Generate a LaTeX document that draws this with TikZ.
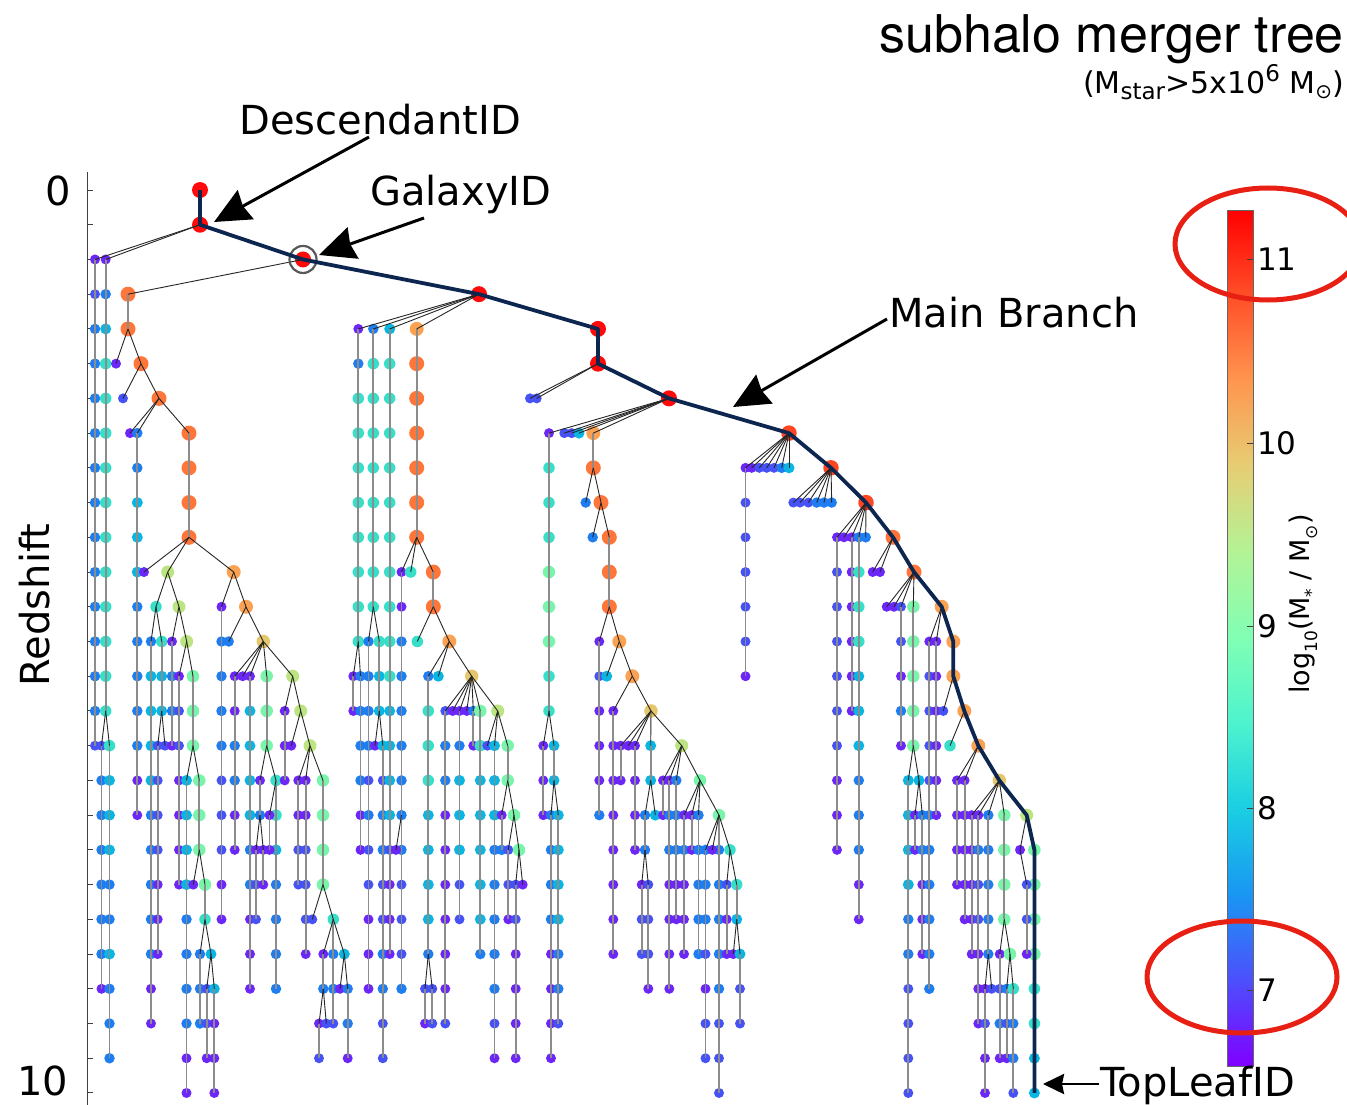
\documentclass[tikz,border=0pt]{standalone}
\usepackage{fontspec}
\setmainfont{DejaVu Sans}
\newfontfamily\helv{TeX Gyre Heros}
\usetikzlibrary{arrows.meta}
\newcommand\setfs[1]{\fontsize{#1}{#1}\selectfont}
\definecolor{cV}{RGB}{108,38,248}
\definecolor{cB}{RGB}{70,82,245}
\definecolor{cA}{RGB}{30,125,240}
\definecolor{cC}{RGB}{10,182,225}
\definecolor{cT}{RGB}{55,222,200}
\definecolor{cG}{RGB}{120,245,170}
\definecolor{cY}{RGB}{188,228,128}
\definecolor{cK}{RGB}{228,198,108}
\definecolor{cO}{RGB}{250,162,82}
\definecolor{cR}{RGB}{255,118,58}
\definecolor{cD}{RGB}{255,70,35}
\definecolor{cX}{RGB}{255,10,10}
\definecolor{navy}{RGB}{12,38,80}
\definecolor{ellred}{RGB}{232,32,20}
\definecolor{cb0}{RGB}{128,0,255}
\definecolor{cb1}{RGB}{77,79,252}
\definecolor{cb2}{RGB}{26,150,243}
\definecolor{cb3}{RGB}{26,206,227}
\definecolor{cb4}{RGB}{77,243,206}
\definecolor{cb5}{RGB}{128,255,180}
\definecolor{cb6}{RGB}{179,243,150}
\definecolor{cb7}{RGB}{230,206,116}
\definecolor{cb8}{RGB}{255,150,79}
\definecolor{cb9}{RGB}{255,79,40}
\definecolor{cb10}{RGB}{255,0,0}
\pgfdeclareverticalshading{rbow}{100bp}{color(0bp)=(cb0); color(25bp)=(cb0); color(30bp)=(cb1); color(35bp)=(cb2); color(40bp)=(cb3); color(45bp)=(cb4); color(50bp)=(cb5); color(55bp)=(cb6); color(60bp)=(cb7); color(65bp)=(cb8); color(70bp)=(cb9); color(75bp)=(cb10); color(100bp)=(cb10)}
\tikzset{
  tdot/.style={circle,inner sep=0pt,outer sep=0pt},
  qV/.style={fill=cV,minimum size=10},
  qB/.style={fill=cB,minimum size=10},
  qA/.style={fill=cA,minimum size=10.5},
  qC/.style={fill=cC,minimum size=11},
  qT/.style={fill=cT,minimum size=11.5},
  qG/.style={fill=cG,minimum size=12.5},
  qY/.style={fill=cY,minimum size=13},
  qK/.style={fill=cK,minimum size=13.5},
  qO/.style={fill=cO,minimum size=14},
  qR/.style={fill=cR,minimum size=15},
  qD/.style={fill=cD,minimum size=15.5},
  qX/.style={fill=cX,minimum size=16},
  vl/.style={line width=1.8pt,draw=black!45},
  dl/.style={line width=0.9pt,draw=black!85},
  mainline/.style={line width=3.8pt,draw=navy,line join=round},
  lab/.style={inner sep=0pt,font=\setfs{40}},
  bigarrow/.style={line width=3pt,-{Stealth[length=36pt,width=33pt,inset=3pt]}},
}
\newif\iflinkpass
\newcommand\tcol[5]{%
  \iflinkpass
    \foreach \cc [count=\ii from 0] in {#5}{%
      \ifnum\ii>0\relax
        \pgfmathtruncatemacro\rr{#3+\ii}%
        \pgfmathtruncatemacro\qq{\rr-1}%
        \draw[vl] (#1-\qq.center) -- (#1-\rr.center);%
      \fi
    }%
    \draw[dl] (#4.center) -- (#1-#3.center);%
  \else
    \foreach \cc [count=\ii from 0] in {#5}{%
      \pgfmathtruncatemacro\rr{#3+\ii}%
      \node[tdot,\cc] (#1-\rr) at (#2,{190+34.73*\rr}) {};%
    }%
  \fi
}
\newcommand\treedata{%
\tcol{a1}{95}{2}{mb-1}{qV,qB,qA,qA,qA,qA,qA,qA,qA,qA,qA,qA,qA,qA,qB}
\tcol{a2}{105.7}{2}{mb-1}{qV,qA,qC,qT,qT,qT,qT,qT,qT,qT,qT,qT,qT,qT}
\tcol{a3}{101.5}{16}{a2-15}{qB,qA,qA,qA,qA,qA,qA,qV}
\tcol{a4}{109.5}{16}{a2-15}{qT,qC,qC,qC,qA,qA,qC,qA,qA,qA}
\tcol{b1}{128}{3}{mb-2}{qR,qR}
\tcol{b2}{116}{5}{b1-4}{qV}
\tcol{b3}{141}{5}{b1-4}{qR}
\tcol{b4}{123}{6}{b3-5}{qB}
\tcol{b5}{159}{6}{b3-5}{qR}
\tcol{b6}{130}{7}{b5-6}{qV}
\tcol{b7}{137.3}{7}{b5-6}{qA,qA,qC,qC,qC,qA,qA,qA,qA,qA,qV,qV}
\tcol{b8}{189}{7}{b5-6}{qR,qR,qR,qR}
\tcol{b9}{144}{11}{b8-10}{qV}
\tcol{c1}{167.7}{11}{b8-10}{qY}
\tcol{c2}{156}{12}{c1-11}{qT}
\tcol{c3}{151}{13}{c2-12}{qA,qC,qC,qC,qC,qA,qA,qA,qA,qA,qV,qV}
\tcol{c4}{161.7}{13}{c2-12}{qT,qC,qC}
\tcol{c5}{157.7}{16}{c4-15}{qB,qB,qB,qB,qV,qV,qV}
\tcol{c6}{165}{16}{c4-15}{qB}
\tcol{c7}{179}{12}{c1-11}{qY}
\tcol{c8}{172}{13}{c7-12}{qV,qA,qA,qV}
\tcol{c9}{186.7}{13}{c7-12}{qY}
\tcol{d1}{179}{14}{c9-13}{qV,qB,qB,qV,qV,qV,qV}
\tcol{d2}{193}{14}{c9-13}{qG,qG,qG}
\tcol{d3}{186.5}{17}{d2-16}{qC,qC,qC,qC,qA,qA,qA,qA,qV,qV}
\tcol{d4}{199.3}{17}{d2-16}{qG,qG,qG}
\tcol{d5}{193.3}{20}{d4-19}{qV}
\tcol{d6}{205}{20}{d4-19}{qG,qT}
\tcol{d7}{200}{22}{d6-21}{qA,qA,qA}
\tcol{d8}{211}{22}{d6-21}{qC}
\tcol{d9}{206.7}{23}{d8-22}{qB,qB,qV}
\tcol{e1}{214.3}{23}{d8-22}{qC,qV,qV,qV}
\tcol{e2}{233.7}{11}{b8-10}{qO}
\tcol{e3}{221.5}{12}{e2-11}{qV,qA,qA,qA,qA,qB,qB,qB,qV,qV}
\tcol{e4}{246}{12}{e2-11}{qO}
\tcol{e5}{228.7}{13}{e4-12}{qA}
\tcol{e6}{263.3}{13}{e4-12}{qK}
\tcol{e7}{234.7}{14}{e6-13}{qV,qV,qA,qA,qV,qV}
\tcol{e8}{242.7}{14}{e6-13}{qV}
\tcol{e9}{250}{14}{e6-13}{qV,qC,qC,qC,qC,qA,qA,qV,qV,qV}
\tcol{f1}{266.7}{14}{e6-13}{qG,qG,qG}
\tcol{f2}{260}{17}{f1-16}{qV,qA}
\tcol{f3}{256}{19}{f2-18}{qV,qB,qB}
\tcol{f4}{263.3}{19}{f2-18}{qV,qV}
\tcol{f5}{276}{17}{f1-16}{qT,qT,qC,qA,qA,qA,qA}
\tcol{f6}{269.5}{18}{f5-17}{qV,qV}
\tcol{f7}{292.7}{14}{e6-13}{qY}
\tcol{f8}{284.7}{15}{f7-14}{qV,qV,qV}
\tcol{f9}{300.7}{15}{f7-14}{qY}
\tcol{g1}{291.3}{16}{f9-15}{qV}
\tcol{g2}{310}{16}{f9-15}{qY}
\tcol{g3}{298.3}{17}{g2-16}{qV,qV,qB,qB}
\tcol{g4}{305.7}{17}{g2-16}{qV,qV,qB,qB,qB,qV}
\tcol{g5}{323}{17}{g2-16}{qG,qG,qG,qG}
\tcol{g6}{312.3}{21}{g5-20}{qB}
\tcol{g7}{333.3}{21}{g5-20}{qT,qA,qA,qB}
\tcol{g8}{323.3}{22}{g7-21}{qV,qA}
\tcol{g9}{319}{24}{g8-23}{qV,qB}
\tcol{h1}{326.3}{24}{g8-23}{qB}
\tcol{h2}{344.3}{22}{g7-21}{qC}
\tcol{h3}{340}{23}{h2-22}{qV}
\tcol{h4}{347.7}{23}{h2-22}{qA,qA,qV}
\tcol{i1}{358.3}{4}{mb-3}{qV,qA,qT,qT,qT,qT,qT,qT,qT,qT}
\tcol{i2}{353.3}{14}{i1-13}{qV,qV}
\tcol{i3}{360.5}{14}{i1-13}{qA,qA,qA,qA,qV,qV}
\tcol{i4}{373.3}{4}{mb-3}{qA,qT,qT,qT,qT,qT,qT,qT,qT}
\tcol{i5}{368.5}{13}{i4-12}{qA,qA,qA,qA,qB,qA,qB,qB,qV,qV,qV}
\tcol{i6}{379.3}{13}{i4-12}{qT,qC,qC}
\tcol{i7}{375}{16}{i6-15}{qV}
\tcol{i8}{382.8}{16}{i6-15}{qC,qB,qA,qA,qB,qB,qA,qA,qB,qB}
\tcol{i9}{389.7}{4}{mb-3}{qC,qT,qT,qT,qT,qT,qT,qT,qT,qT,qT,qC,qC,qC,qC,qB,qV,qV,qV}
\tcol{j1}{416.7}{4}{mb-3}{qO,qR,qR,qR,qR,qR,qR}
\tcol{j2}{401.5}{11}{j1-10}{qV,qV,qA,qA,qA,qA,qA,qA,qA,qB,qB,qB,qA}
\tcol{j3}{396}{19}{j2-18}{qV}
\tcol{j4}{410.7}{11}{j1-10}{qT}
\tcol{j5}{433.3}{11}{j1-10}{qR,qR}
\tcol{j6}{417.3}{13}{j5-12}{qT}
\tcol{j7}{449.3}{13}{j5-12}{qO}
\tcol{j8}{428.3}{14}{j7-13}{qA,qT,qT,qT,qC,qC,qC,qC,qA}
\tcol{j9}{425}{23}{j8-22}{qB,qV}
\tcol{k1}{432.3}{23}{j8-22}{qB,qB}
\tcol{k2}{438.3}{14}{j7-13}{qC}
\tcol{k3}{471.7}{14}{j7-13}{qK}
\tcol{k4}{445.3}{15}{k3-14}{qB,qA,qA,qV,qV,qV,qV,qV,qV,qB}
\tcol{k5}{452.7}{15}{k3-14}{qV}
\tcol{k6}{459.5}{15}{k3-14}{qV,qA,qC,qC,qC,qB,qB}
\tcol{k7}{466.7}{15}{k3-14}{qV}
\tcol{k8}{473.3}{15}{k3-14}{qA,qV}
\tcol{k9}{480.3}{15}{k3-14}{qG,qT,qC,qC,qC,qC,qC,qA}
\tcol{l1}{497.7}{15}{k3-14}{qY}
\tcol{l2}{487.3}{16}{l1-15}{qB}
\tcol{l3}{494.5}{16}{l1-15}{qC,qC,qC,qA,qA,qA,qA,qA,qB,qV}
\tcol{l4}{507.7}{16}{l1-15}{qG,qG}
\tcol{l5}{501.7}{18}{l4-17}{qV,qA}
\tcol{l6}{514}{18}{l4-17}{qG}
\tcol{l7}{508.3}{19}{l6-18}{qB,qB,qV}
\tcol{l8}{519}{19}{l6-18}{qG}
\tcol{l9}{515.7}{20}{l8-19}{qB,qB,qV,qV,qV,qV}
\tcol{m1}{522.7}{20}{l8-19}{qV}
\tcol{n1}{530}{6}{mb-5}{qB}
\tcol{n2}{536.7}{6}{mb-5}{qB}
\tcol{n3}{549}{7}{mb-6}{qV,qT,qT,qT,qG,qG,qG,qT,qT}
\tcol{n4}{543.3}{16}{n3-15}{qV,qV,qV}
\tcol{n5}{554}{16}{n3-15}{qC,qC}
\tcol{n6}{551}{18}{n5-17}{qA,qA,qA,qA,qV,qV,qV,qV}
\tcol{n7}{558.3}{18}{n5-17}{qC,qC,qC,qC,qA,qA,qB}
\tcol{n8}{564.3}{7}{mb-6}{qB}
\tcol{n9}{571.7}{7}{mb-6}{qB}
\tcol{o1}{579}{7}{mb-6}{qC}
\tcol{o2}{593.3}{7}{mb-6}{qO,qR}
\tcol{o3}{585.7}{9}{o2-8}{qA}
\tcol{o4}{601}{9}{o2-8}{qR}
\tcol{o5}{592.7}{10}{o4-9}{qA}
\tcol{o6}{609.3}{10}{o4-9}{qR,qR,qR}
\tcol{o7}{599.3}{13}{o6-12}{qV,qB,qV,qV,qV,qA}
\tcol{o8}{619.3}{13}{o6-12}{qO}
\tcol{o9}{606.7}{14}{o8-13}{qC}
\tcol{p1}{632.3}{14}{o8-13}{qO}
\tcol{p2}{613.3}{15}{p1-14}{qV,qV,qV,qV,qV,qV,qV,qV}
\tcol{p3}{651}{15}{p1-14}{qK}
\tcol{p4}{620.7}{16}{p3-15}{qV,qV}
\tcol{p5}{628.3}{16}{p3-15}{qV}
\tcol{p6}{635}{16}{p3-15}{qV,qV,qV,qV}
\tcol{p7}{650.7}{16}{p3-15}{qC,qC}
\tcol{p8}{645}{18}{p7-17}{qA,qA}
\tcol{p9}{655.3}{18}{p7-17}{qC}
\tcol{q1}{641.7}{20}{p8-19}{qV,qB,qB}
\tcol{q2}{648.3}{20}{p8-19}{qB,qB,qB,qV}
\tcol{q3}{681.7}{16}{p3-15}{qY}
\tcol{q4}{663}{17}{q3-16}{qV,qV}
\tcol{q5}{669.3}{17}{q3-16}{qV,qA,qA,qV,qV,qV,qV}
\tcol{q6}{676.3}{17}{q3-16}{qA,qA,qA,qV,qV}
\tcol{q7}{700}{17}{q3-16}{qG}
\tcol{q8}{684}{18}{q7-17}{qV,qA,qV,qV,qV}
\tcol{q9}{691.7}{18}{q7-17}{qV,qV}
\tcol{r1}{698.5}{18}{q7-17}{qA,qA,qA,qA,qA}
\tcol{r2}{719}{18}{q7-17}{qG,qA,qA,qA,qA,qA,qB,qB,qB}
\tcol{r3}{705.5}{19}{r2-18}{qA,qA,qA,qB,qV,qB,qB}
\tcol{r4}{712.3}{19}{r2-18}{qV}
\tcol{r5}{730}{19}{r2-18}{qT}
\tcol{r6}{726.7}{20}{r5-19}{qB,qV,qV}
\tcol{r7}{736.7}{20}{r5-19}{qT,qC}
\tcol{r8}{733.3}{22}{r7-21}{qV}
\tcol{r9}{740}{22}{r7-21}{qC,qB,qB}
\tcol{s1}{745.5}{8}{mb-7}{qV,qB,qB,qB,qB,qB,qV}
\tcol{s2}{751.7}{8}{mb-7}{qV}
\tcol{s3}{759.3}{8}{mb-7}{qB}
\tcol{s4}{766.7}{8}{mb-7}{qB}
\tcol{s5}{774}{8}{mb-7}{qB}
\tcol{s6}{781.7}{8}{mb-7}{qA}
\tcol{s7}{789}{8}{mb-7}{qC}
\tcol{t1}{793.3}{9}{mb-8}{qB}
\tcol{t2}{800}{9}{mb-8}{qB}
\tcol{t3}{808.3}{9}{mb-8}{qB}
\tcol{t4}{816.7}{9}{mb-8}{qA}
\tcol{t5}{824}{9}{mb-8}{qA}
\tcol{t6}{831.7}{9}{mb-8}{qA}
\tcol{u1}{837}{10}{mb-9}{qV,qB,qB,qB,qB,qB,qB,qV,qV,qV}
\tcol{u2}{844}{10}{mb-9}{qV}
\tcol{u3}{851.7}{10}{mb-9}{qV,qV,qV,qV,qV,qV}
\tcol{u4}{858.8}{10}{mb-9}{qA,qT,qT,qT,qC,qC,qC,qA,qA,qA,qV,qV}
\tcol{u5}{865.7}{10}{mb-9}{qA}
\tcol{v1}{872.7}{11}{mb-10}{qV}
\tcol{v2}{880}{11}{mb-10}{qV}
\tcol{v3}{886.7}{12}{mb-11}{qV}
\tcol{v4}{894}{12}{mb-11}{qV}
\tcol{v5}{901}{12}{mb-11}{qB,qB,qV,qA,qV}
\tcol{v6}{913.3}{12}{mb-11}{qG,qG,qG,qG,qG}
\tcol{v7}{908.3}{17}{v6-16}{qC,qC,qC,qC,qA,qA,qB,qB,qB,qB}
\tcol{v8}{919}{17}{v6-16}{qC}
\tcol{v9}{915}{18}{v8-17}{qV,qV}
\tcol{w1}{922.3}{18}{v8-17}{qA,qA,qV,qV,qV}
\tcol{w2}{929.3}{13}{mb-12}{qV,qB,qB,qB,qB,qA,qA,qA,qA,qA,qA}
\tcol{w3}{936.3}{13}{mb-12}{qV,qV,qV,qV,qV,qV}
\tcol{w4}{943.3}{15}{mb-14}{qB}
\tcol{w5}{950}{16}{mb-15}{qT}
\tcol{w6}{957}{17}{mb-16}{qV,qV,qV,qV}
\tcol{w7}{964.6}{17}{mb-16}{qV,qV,qV,qV,qV}
\tcol{x1}{971.7}{18}{mb-17}{qV,qV,qV,qV,qV}
\tcol{x2}{978.3}{18}{mb-17}{qV,qA,qB,qB,qV,qV,qV}
\tcol{x3}{988.3}{18}{mb-17}{qA,qA,qA,qA,qA}
\tcol{x4}{985}{23}{x3-22}{qV,qB,qV,qV}
\tcol{x5}{991.7}{23}{x3-22}{qB}
\tcol{x6}{1004.3}{18}{mb-17}{qG,qG,qG,qG}
\tcol{x7}{999.7}{22}{x6-21}{qV,qB,qA,qV}
\tcol{x8}{1010}{22}{x6-21}{qG}
\tcol{x9}{1006.7}{23}{x8-22}{qA,qB,qV}
\tcol{y1}{1013.3}{23}{x8-22}{qT,qA,qA,qB}
\tcol{y2}{1020}{19}{mb-18}{qV}
\tcol{y3}{1026.7}{20}{y2-19}{qB,qB,qV}
}
\begin{document}
\begin{tikzpicture}[x=1pt,y=-1pt]
\useasboundingbox (0,0) rectangle (1347,1105);
\fill[white] (0,0) rectangle (1347,1105);
\clip (0,0) rectangle (1347,1105);
% axis
\draw[line width=1.4pt,black!75] (87.5,172) -- (87.5,1105);
\foreach \r in {0,...,26} \draw[line width=1pt,black!75] (87.5,{190+34.73*\r}) -- (93,{190+34.73*\r});
\node[lab] (z0) at (58.5,191) {0};
\node[lab] (z10) at (42.5,1081) {10};
\node[lab,rotate=90] (zlab) at (35,605) {Redshift};
% main branch nodes
\foreach \xx/\cc [count=\rr from 0] in {200/qX,200/qX,303/qX,479/qX,598/qX,598/qX,669/qX,789/qD,831/qD,866/qD,893/qR,914/qR,941.7/qO,953.3/qO,953.3/qO,964.3/qO,978.3/qO,999.3/qK,1026.7/qY,1034.4/qG,1034.4/qG,1034.4/qG,1034.4/qG,1034.4/qT,1034.4/qT,1034.4/qC,1034.4/qC}
  {\node[tdot,\cc] (mb-\rr) at (\xx,{190+34.73*\rr}) {};}
% tree: dots, then links
\linkpassfalse
\treedata
\linkpasstrue
\treedata
% GalaxyID ring
\node[circle,draw=black!65,line width=2.2pt,minimum size=27,inner sep=0pt] (ring) at (mb-2) {};
% main branch line
\draw[mainline] (mb-0.center) \foreach \i in {1,...,26}{ -- (mb-\i.center)};
% colour bar
\shade[shading=rbow] (1227,210) rectangle (1253,1066);
\draw[black!60,line width=1pt] (1227,210) rectangle (1253,1066);
\foreach \v/\yy in {11/259,10/443,9/626,8/808,7/990}{
  \draw[black!75,line width=1pt] (1247,\yy) -- (1253,\yy);
  \node[anchor=west,inner sep=0pt,font=\setfs{31}] (cbl\v) at (1257,\yy) {\v};
}
\node[rotate=90,inner sep=0pt,font=\setfs{27}] (cbtitle) at (1303,604) {log\raisebox{-0.3em}{\setfs{17}10}(M\raisebox{-0.3em}{\setfs{17}*} / M\raisebox{-0.3em}{\setfs{17}⊙})};
\draw[ellred,line width=5pt] (1268,244) ellipse [x radius=93,y radius=56];
\draw[ellred,line width=5pt] (1242,977) ellipse [x radius=95,y radius=56];
% titles
\node[anchor=base east,inner sep=0pt,font=\helv\setfs{52}] (title) at (1344,53) {subhalo merger tree};
\node[anchor=base east,inner sep=0pt,font=\setfs{30}] (subtitle) at (1344,94) {(M\raisebox{-0.2em}{\setfs{23}star}>5x10\raisebox{0.4em}{\setfs{23}6} M\raisebox{-0.15em}{\setfs{20}⊙})};
% labels and arrows
\node[lab,anchor=base west] (ldesc) at (239,135) {DescendantID};
\node[lab,anchor=base west] (lgal) at (370,205) {GalaxyID};
\node[lab,anchor=base west] (lmain) at (889,327) {Main Branch};
\node[lab,anchor=base west] (ltop) at (1100,1096) {TopLeafID};
\coordinate (descA) at (369,137);
\coordinate (descT) at (214,222);
\coordinate (galA) at (424,218);
\coordinate (galT) at (319,255);
\coordinate (mainA) at (887,319);
\coordinate (mainT) at (733,407);
\coordinate (topA) at (1099,1084);
\coordinate (topT) at (1043,1084);
\draw[bigarrow] (descA) -- (descT);
\draw[bigarrow] (galA) -- (galT);
\draw[bigarrow] (mainA) -- (mainT);
\draw[line width=2.8pt,-{Stealth[length=21pt,width=20pt,inset=2pt]}] (topA) -- (topT);
\end{tikzpicture}
\end{document}
